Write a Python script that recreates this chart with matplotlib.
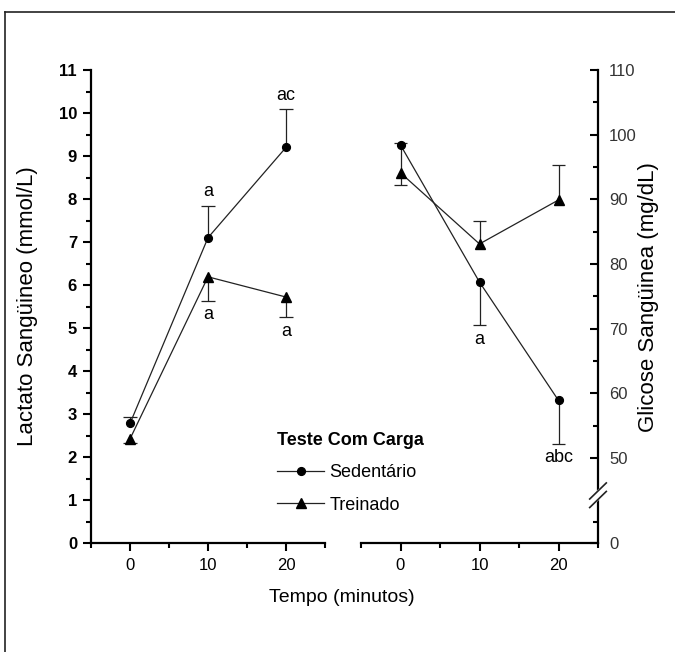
import numpy as np
import matplotlib
matplotlib.use("Agg")
import matplotlib.pyplot as plt
from matplotlib.lines import Line2D
from matplotlib.ticker import MultipleLocator, FixedLocator

narrow = ['Liberation Sans', 'DejaVu Sans']
regular = ['Liberation Sans', 'DejaVu Sans']

times = [0, 10, 20]

# lactato (mmol/L)
lac_sed = [2.78, 7.10, 9.20]
lac_sed_err = [0.15, 0.74, 0.89]     # bar drawn upwards
lac_tre = [2.42, 6.19, 5.72]
lac_tre_err = [0.09, 0.56, 0.47]     # bar drawn downwards

# glicose (mg/dL)
glu_sed = [98.4, 77.2, 58.9]
glu_sed_err_dn = [6.2, 6.7, 6.7]
glu_sed_err_up = [0.3, 0.0, 0.0]
glu_tre = [94.1, 83.1, 89.9]
glu_tre_err_up = [0.0, 3.5, 5.4]

lac_sed_marks = ['', 'a', 'ac']
lac_tre_marks = ['', 'a', 'a']
glu_sed_marks = ['', 'a', 'abc']

# broken right axis: 0-40 squeezed, 50-110 linear
g_nodes = [0, 40, 50, 110]
v_nodes = [0, 1.0, 1.977, 11]


def fwd(g):
    return np.interp(g, g_nodes, v_nodes)


def inv(v):
    return np.interp(v, v_nodes, g_nodes)


def bars(ax, x, y, err, sign, half=0.85):
    for xi, yi, e in zip(x, y, err):
        if e <= 0:
            continue
        end = yi + sign * e
        ax.vlines(xi, yi, end, color='#222222', lw=0.9, zorder=2)
        ax.hlines(end, xi - half, xi + half, color='#222222', lw=0.9, zorder=2)


def marks(ax, x, y, err, labels, sign):
    for xi, yi, e, lab in zip(x, y, err, labels):
        if not lab:
            continue
        ax.annotate(lab, (xi, yi + sign * e), xytext=(0, sign * 10),
                    textcoords='offset points', ha='center', va='center',
                    fontsize=13, family=narrow)


def style(ax):
    ax.patch.set_visible(False)
    ax.set_xlim(-5, 25)
    ax.xaxis.set_major_locator(FixedLocator([0, 10, 20]))
    ax.xaxis.set_minor_locator(FixedLocator([-5, 5, 15, 25]))
    ax.spines['top'].set_visible(False)
    for s in ax.spines.values():
        s.set_linewidth(1.6)
    ax.tick_params(axis='x', which='major', direction='out', length=6, width=1.5,
                   pad=5, labelsize=12)
    ax.tick_params(axis='x', which='minor', direction='out', length=3.5, width=1.5)
    for t in ax.get_xticklabels():
        t.set_family(narrow)


fig = plt.figure(figsize=(6.75, 6.52), dpi=100)

axL = fig.add_axes([91 / 675, 109 / 652, 234 / 675, 473 / 652])
axR = fig.add_axes([361 / 675, 109 / 652, 237 / 675, 473 / 652])

# left panel
style(axL)
axL.spines['right'].set_visible(False)
axL.set_ylim(0, 11)
axL.yaxis.set_major_locator(MultipleLocator(1))
axL.yaxis.set_minor_locator(MultipleLocator(0.5))
axL.tick_params(axis='y', which='major', direction='out', length=6, width=1.5,
                pad=4, labelsize=12)
axL.tick_params(axis='y', which='minor', direction='out', length=3.5, width=1.5)
for t in axL.get_yticklabels():
    t.set_family(narrow)
    t.set_fontweight('bold')

bars(axL, times, lac_sed, lac_sed_err, 1)
bars(axL, times, lac_tre, lac_tre_err, -1)
hs, = axL.plot(times, lac_sed, color='#222222', lw=0.9, marker='o', ms=5.6,
               mfc='black', mec='black', zorder=3)
ht, = axL.plot(times, lac_tre, color='#222222', lw=0.9, marker='^', ms=6.8,
               mfc='black', mec='black', zorder=3)
marks(axL, times, lac_sed, lac_sed_err, lac_sed_marks, 1)
marks(axL, times, lac_tre, lac_tre_err, lac_tre_marks, -1)
axL.set_ylabel('Lactato Sangüineo (mmol/L)', fontsize=16, family=regular)
axL.yaxis.set_label_coords(-0.225, 0.5)

# right panel
style(axR)
axR.spines['left'].set_visible(False)
axR.set_yscale('function', functions=(fwd, inv))
axR.set_ylim(0, 110)
axR.yaxis.tick_right()
axR.yaxis.set_label_position('right')
axR.yaxis.set_major_locator(FixedLocator([0, 50, 60, 70, 80, 90, 100, 110]))
axR.yaxis.set_minor_locator(FixedLocator([20, 55, 65, 75, 85, 95, 105]))
axR.yaxis.set_major_formatter(plt.FuncFormatter(lambda v, p: f'{v:.0f}'))
axR.yaxis.set_minor_formatter(plt.NullFormatter())
axR.tick_params(axis='y', which='major', direction='in', length=6, width=1.5,
                pad=8, labelsize=12, labelcolor='#333333')
axR.tick_params(axis='y', which='minor', direction='in', length=3.5, width=1.5)
for t in axR.get_yticklabels():
    t.set_family(narrow)

bars(axR, times, glu_sed, glu_sed_err_dn, -1)
bars(axR, times, glu_sed, glu_sed_err_up, 1)
bars(axR, times, glu_tre, glu_tre_err_up, 1)
axR.plot(times, glu_sed, color='#222222', lw=0.9, marker='o', ms=5.6,
         mfc='black', mec='black', zorder=3)
axR.plot(times, glu_tre, color='#222222', lw=0.9, marker='^', ms=6.8,
         mfc='black', mec='black', zorder=3)
marks(axR, times, glu_sed, glu_sed_err_dn, glu_sed_marks, -1)
axR.set_ylabel('Glicose Sangüinea (mg/dL)', fontsize=16, family=regular)
axR.yaxis.set_label_coords(1.17, 0.52)

# break marks on the right axis
yb = 0.101
axR.fill([0.97, 1.03, 1.03, 0.97], [yb - 0.024, yb + 0.004, yb + 0.024, yb - 0.004],
         transform=axR.transAxes, color='white', clip_on=False, zorder=5)
for dy in (-0.009, 0.009):
    axR.plot([0.965, 1.035], [yb - 0.017 + dy, yb + 0.017 + dy], color='#222222',
             lw=1.2, transform=axR.transAxes, clip_on=False, zorder=6)

# legend
leg = fig.legend([hs, ht], ['Sedentário', 'Treinado'], title='Teste Com Carga',
                 loc='upper left', bbox_to_anchor=(268 / 675, 1 - 423 / 652),
                 frameon=False, borderpad=0,
                 handlelength=2.6, handletextpad=0.3, labelspacing=0.85,
                 alignment='left', prop={'family': narrow, 'size': 13})
leg.get_title().set_fontsize(13)
leg.get_title().set_family(narrow)
leg.get_title().set_fontweight('bold')

fig.text(342 / 675, 1 - 598 / 652, 'Tempo (minutos)', ha='center', va='center',
         fontsize=14, family=narrow)

# outer frame (top and left edges visible)
fig.add_artist(Line2D([5 / 675, 1], [1 - 12 / 652, 1 - 12 / 652], color='#222222',
                      lw=1.2, transform=fig.transFigure))
fig.add_artist(Line2D([5 / 675, 5 / 675], [0, 1 - 12 / 652], color='#222222',
                      lw=1.2, transform=fig.transFigure))

fig.savefig('out.png', dpi=100)
